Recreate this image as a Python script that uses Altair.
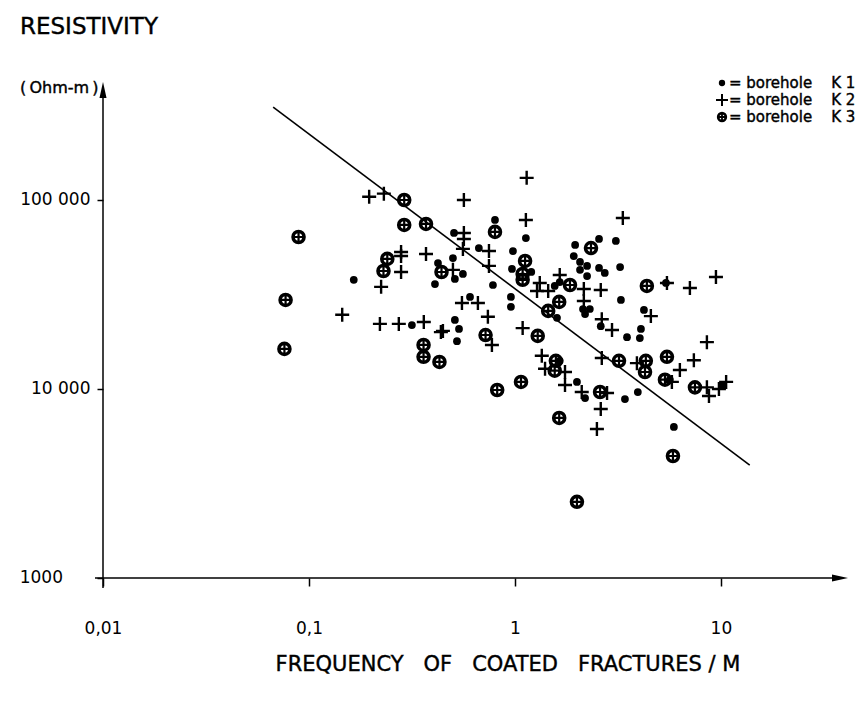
import altair as alt
import pandas as pd

# Borehole K 1: frequency of coated fractures (1/m) and resistivity (Ohm-m)
k1_freq = [0.165, 0.316, 0.511, 0.535, 0.523, 0.423, 0.50, 0.511, 0.559, 0.506,
           0.409, 0.80, 0.668, 1.13, 0.978, 0.967, 1.20, 0.782, 0.605, 0.956,
           0.956, 1.60, 1.56, 1.65, 1.96, 1.93, 2.07, 2.24, 2.07, 2.24,
           2.56, 3.09, 3.24, 2.56, 2.73, 2.14, 2.31, 2.19, 3.27, 4.23,
           2.61, 3.50, 4.09, 4.04, 5.41, 1.65, 2.00, 2.19, 3.42, 3.95,
           5.91, 10.2, 5.65]
k1_res = [37800, 21800, 23200, 20800, 17900, 46400, 49300, 38200, 40600, 66900,
          35900, 78400, 55700, 62900, 53700, 43200, 41600, 35500, 30700, 30700,
          27200, 23800, 35100, 36800, 57800, 50500, 47000, 44800, 42700, 39600,
          62200, 60700, 44200, 43700, 41100, 26500, 26500, 24900, 29600, 26200,
          21500, 18800, 20800, 18600, 36400, 14100, 10900, 8960, 8850, 9640,
          6300, 10400, 11200]

# Borehole K 2
k2_freq = [0.196, 0.231, 0.28, 0.28, 0.37, 0.28, 0.224, 0.145, 0.221, 0.273,
           0.361, 0.437, 0.50, 0.565, 0.565, 0.565, 0.559, 0.748, 0.748, 0.553,
           0.661, 0.739, 0.447, 0.773, 1.09, 1.14, 1.13, 1.32, 1.28, 1.45,
           1.65, 1.35, 1.40, 1.75, 1.75, 3.34, 2.16, 2.61, 2.16, 2.64,
           2.96, 4.57, 7.07, 9.46, 3.91, 2.64, 6.32, 7.39, 8.55, 5.78,
           8.55, 8.75, 10.6, 9.78, 2.11, 2.80, 2.61, 2.50, 5.47]
k2_res = [104000, 108000, 53100, 50500, 51800, 41600, 34700, 24700, 22100, 22100,
          22600, 20000, 42700, 100000, 66900, 62200, 55100, 53700, 44800, 28500,
          28500, 24100, 20300, 17100, 21000, 131000, 78400, 36400, 33000, 33000,
          40100, 15000, 12800, 12300, 10500, 80300, 33800, 33400, 29200, 23400,
          20500, 24300, 34200, 39100, 13700, 14600, 12600, 14200, 17700, 10900,
          10200, 9190, 10900, 10000, 9640, 9530, 7840, 6140, 36400]

# Borehole K 3
k3_freq = [0.089, 0.077, 0.076, 0.29, 0.29, 0.37, 0.24, 0.23, 0.44, 0.36,
           0.36, 0.43, 0.80, 1.12, 1.09, 1.09, 0.72, 1.29, 1.45, 1.64,
           1.85, 2.34, 4.37, 0.82, 1.07, 1.58, 1.56, 1.64, 2.59, 3.20,
           4.32, 4.28, 5.47, 5.35, 7.48, 5.85, 2.00]
k3_res = [63700, 29600, 16300, 100000, 73800, 74700, 48800, 42100, 41600, 17100,
          14800, 13900, 67800, 47600, 40600, 37800, 19300, 19100, 25900, 28900,
          35500, 55700, 35100, 9880, 10900, 14100, 12500, 7030, 9640, 14100,
          14100, 12300, 14800, 11200, 10200, 4420, 2530]

# Fitted trend line (end points)
trend_freq = [0.067, 13.8]
trend_res = [310000, 3960]

x_ticks = [0.01, 0.1, 1, 10]
y_ticks = [1000, 10000, 100000]
y_origin_label = "1000"

NB = "\u00a0"
legend_labels = [f"={NB}borehole{NB * 4}K{NB}1",
                 f"={NB}borehole{NB * 4}K{NB}2",
                 f"={NB}borehole{NB * 4}K{NB}3"]
x_title = f"FREQUENCY{NB * 3}OF{NB * 3}COATED{NB * 3}FRACTURES{NB}/{NB}M"

FONT = "DejaVu Sans"
W, H = 745, 496
PAD = {"left": 103, "top": 82, "right": 20, "bottom": 132}

CROSS = "M-1,0L1,0M0,-1L0,1"
ARROW_UP = "M0,-1L0.44,1L-0.44,1Z"
ARROW_RIGHT = "M1,0L-1,0.44L-1,-0.44Z"


def frame(freq, res):
    return pd.DataFrame({"freq": freq, "res": res})


x_scale = alt.Scale(type="log", domain=[0.01, 41.4], nice=False)
y_scale = alt.Scale(type="log", domain=[1000, 421000], nice=False)

x_enc = alt.X(
    "freq:Q", scale=x_scale,
    axis=alt.Axis(values=x_ticks, format="~g",
                  labelExpr="replace(datum.label, '.', ',')",
                  domain=False, grid=False, tickSize=8, tickWidth=1.5,
                  tickColor="black", labelColor="black", labelFont=FONT,
                  labelFontSize=17, labelPadding=34, labelFlush=False,
                  title=""),
)
# the origin label (1000) is written separately, further to the left
y_enc = alt.Y(
    "res:Q", scale=y_scale,
    axis=alt.Axis(values=y_ticks,
                  labelExpr="datum.value >= 10000 ? replace(format(datum.value, ','), ',', ' ') : ''",
                  domain=False, grid=False, tickSize=6, tickWidth=1.5,
                  tickColor="black", labelColor="black", labelFont=FONT,
                  labelFontSize=17, labelPadding=7, labelFlush=False,
                  title=""),
)


def scatter(freq, res):
    return alt.Chart(frame(freq, res)).encode(x=x_enc, y=y_enc)


k1_layer = scatter(k1_freq, k1_res).mark_point(
    shape="circle", filled=True, size=60, color="black", opacity=1)
k2_layer = scatter(k2_freq, k2_res).mark_point(
    shape=CROSS, filled=False, size=196, color="black", strokeWidth=2.4, opacity=1)
k3_ring = scatter(k3_freq, k3_res).mark_point(
    shape="circle", filled=False, size=120, color="black", strokeWidth=3.6, opacity=1)
k3_cross = scatter(k3_freq, k3_res).mark_point(
    shape=CROSS, filled=False, size=150, color="black", strokeWidth=2.2, opacity=1)
trend = alt.Chart(frame(trend_freq, trend_res)).mark_line(
    color="black", strokeWidth=1.6).encode(x=x_enc, y=y_enc)

one = pd.DataFrame({"k": [0]})

origin_label = alt.Chart(pd.DataFrame({"res": [y_ticks[0]], "txt": [y_origin_label]})).mark_text(
    align="right", baseline="middle", fontSize=17, font=FONT, color="black",
).encode(x=alt.value(-40), y=y_enc, text="txt:N")

# Hand-drawn style axes with arrow heads
y_axis_line = alt.Chart(one).mark_rule(color="black", strokeWidth=1.5).encode(
    x=alt.value(0), y=alt.value(12), y2=alt.value(H + 10))
x_axis_line = alt.Chart(one).mark_rule(color="black", strokeWidth=1.5).encode(
    x=alt.value(-8), x2=alt.value(W - 12), y=alt.value(H))
y_arrow = alt.Chart(one).mark_point(
    shape=ARROW_UP, filled=True, size=256, color="black", opacity=1).encode(
    x=alt.value(0), y=alt.value(8))
x_arrow = alt.Chart(one).mark_point(
    shape=ARROW_RIGHT, filled=True, size=256, color="black", opacity=1).encode(
    x=alt.value(W - 8), y=alt.value(H))


def label(text, x, y, size, align="left", baseline="middle"):
    return alt.Chart(one).mark_text(
        text=text, align=align, baseline=baseline, fontSize=size,
        font=FONT, color="black", stroke="black", strokeWidth=0.4,
    ).encode(x=alt.value(x), y=alt.value(y))


titles = [
    label("RESISTIVITY", -83, -55, 23),
    label("(\u2009Ohm-m\u2009)", -83, 6, 16),
    label(x_title, 405, 583, 21, align="center"),
]

# Legend (top right)
legend_layers = []
leg_x, leg_y0, leg_dy = 619, 1, 17
legend_layers.append(alt.Chart(one).mark_point(
    shape="circle", filled=True, size=40, color="black", opacity=1).encode(
    x=alt.value(leg_x), y=alt.value(leg_y0)))
legend_layers.append(alt.Chart(one).mark_point(
    shape=CROSS, filled=False, size=144, color="black", strokeWidth=2, opacity=1).encode(
    x=alt.value(leg_x), y=alt.value(leg_y0 + leg_dy)))
legend_layers.append(alt.Chart(one).mark_point(
    shape="circle", filled=False, size=60, color="black", strokeWidth=2.6, opacity=1).encode(
    x=alt.value(leg_x), y=alt.value(leg_y0 + 2 * leg_dy)))
legend_layers.append(alt.Chart(one).mark_point(
    shape=CROSS, filled=False, size=90, color="black", strokeWidth=1.8, opacity=1).encode(
    x=alt.value(leg_x), y=alt.value(leg_y0 + 2 * leg_dy)))
for i, txt in enumerate(legend_labels):
    legend_layers.append(label(txt, leg_x + 7, leg_y0 + i * leg_dy, 15))

chart = alt.layer(
    trend, k1_layer, k2_layer, k3_ring, k3_cross, origin_label,
    y_axis_line, x_axis_line, y_arrow, x_arrow,
    *titles, *legend_layers,
).properties(
    width=W, height=H, padding=PAD,
    autosize=alt.AutoSizeParams(type="none"),
    background="white",
).configure(font=FONT).configure_view(stroke=None)

chart.save("out.html", embed_options={"renderer": "svg", "actions": False})
